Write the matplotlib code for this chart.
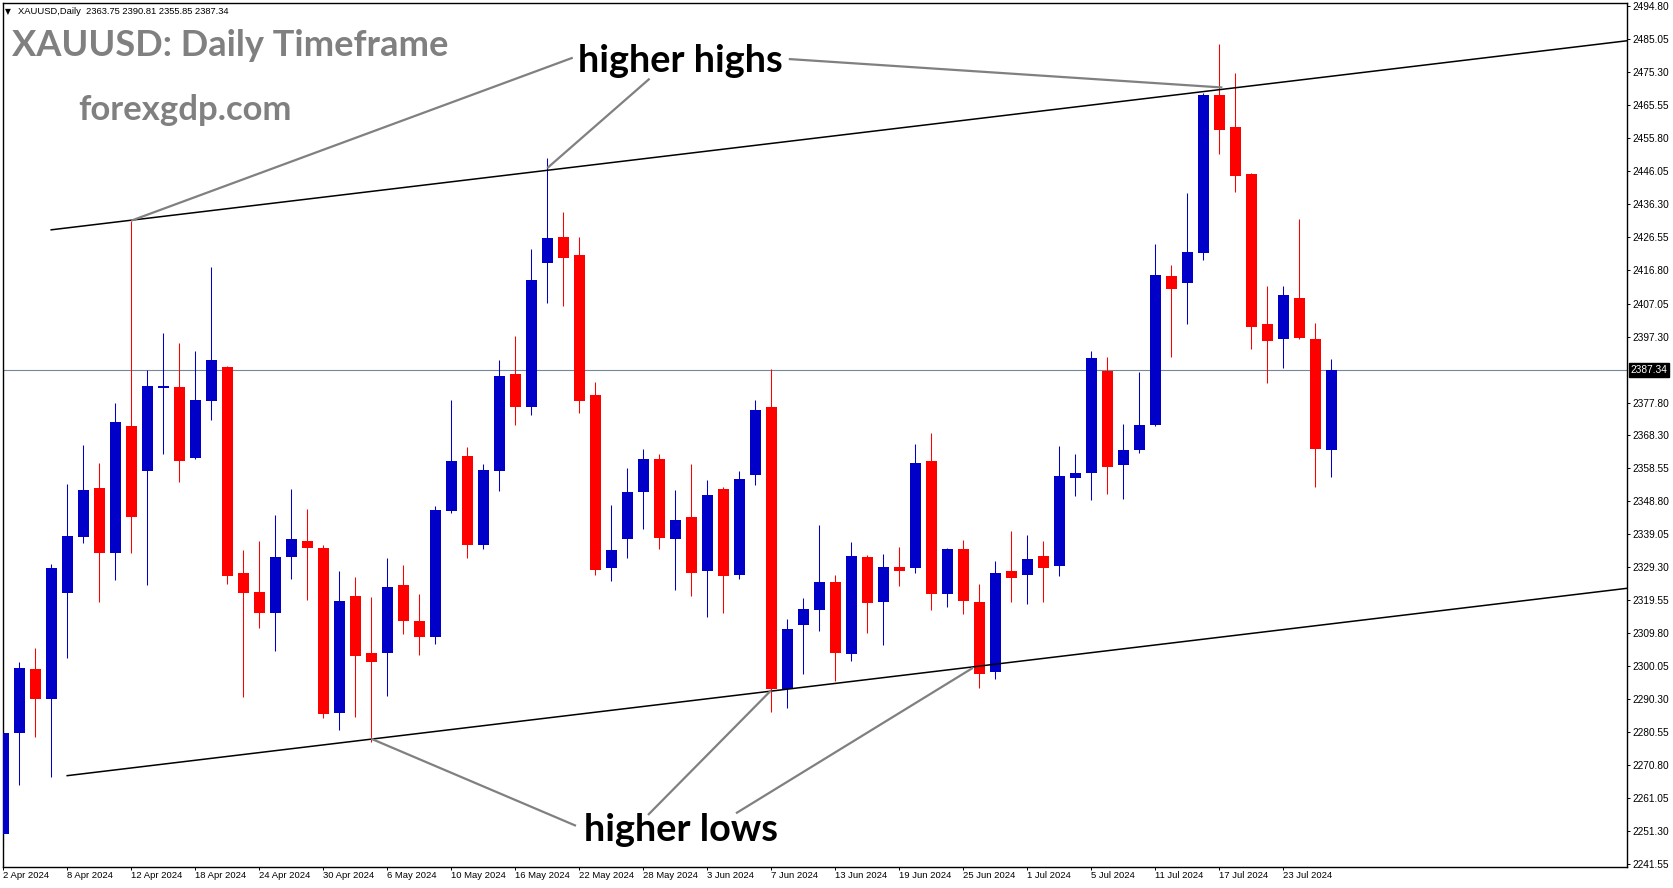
import matplotlib
matplotlib.use("Agg")
import matplotlib.pyplot as plt
import numpy as np
import pandas as pd

# ---------------- data ----------------
opens = [2250.4, 2280.3, 2299.1, 2290.4, 2321.7, 2338.0, 2352.7, 2333.3, 2371.0, 2357.5,
         2382.1, 2382.3, 2361.4, 2378.2, 2388.2, 2327.5, 2321.8, 2315.8, 2332.1, 2337.0,
         2334.9, 2286.1, 2320.7, 2303.9, 2304.0, 2323.9, 2313.4, 2308.7, 2345.9, 2362.1,
         2335.9, 2357.7, 2386.2, 2376.6, 2418.9, 2426.7, 2421.4, 2379.9, 2329.0, 2337.5,
         2351.3, 2361.2, 2337.4, 2344.1, 2328.2, 2352.4, 2326.9, 2356.3, 2376.5, 2293.2,
         2312.3, 2316.7, 2324.9, 2303.7, 2332.3, 2319.1, 2329.3, 2329.1, 2360.6, 2321.4,
         2334.6, 2318.9, 2298.4, 2328.1, 2326.9, 2332.6, 2329.6, 2355.6, 2357.0, 2387.2,
         2359.5, 2363.9, 2371.2, 2415.2, 2413.2, 2422.1, 2468.6, 2459.2, 2445.3, 2401.0,
         2396.7, 2408.7, 2396.6, 2363.75]
highs = [2281.0, 2301.1, 2305.3, 2330.2, 2353.8, 2365.2, 2360.1, 2377.6, 2431.5, 2387.4,
         2398.2, 2395.5, 2393.0, 2417.8, 2388.6, 2334.3, 2337.0, 2344.7, 2352.4, 2346.5,
         2335.9, 2328.1, 2326.3, 2320.4, 2332.0, 2329.9, 2321.3, 2347.2, 2378.6, 2364.7,
         2359.6, 2390.4, 2397.5, 2423.0, 2450.1, 2434.1, 2426.7, 2384.0, 2347.6, 2358.5,
         2364.2, 2362.5, 2352.0, 2359.7, 2355.0, 2352.9, 2357.6, 2378.6, 2387.8, 2313.9,
         2320.2, 2341.7, 2327.0, 2336.7, 2332.9, 2333.1, 2335.2, 2365.6, 2368.8, 2334.9,
         2337.3, 2324.3, 2331.0, 2339.9, 2338.7, 2337.0, 2365.0, 2362.6, 2393.0, 2391.3,
         2371.5, 2386.8, 2424.6, 2418.4, 2439.7, 2469.1, 2483.7, 2475.1, 2445.5, 2412.2,
         2412.2, 2432.0, 2401.3, 2390.81]
lows = [2246.5, 2264.9, 2279.2, 2267.3, 2302.5, 2336.4, 2319.0, 2325.3, 2333.5, 2324.0,
        2362.7, 2354.3, 2361.3, 2372.7, 2324.2, 2290.9, 2311.3, 2304.5, 2325.8, 2319.6,
        2284.7, 2281.2, 2285.0, 2277.5, 2291.2, 2309.5, 2303.4, 2306.6, 2345.1, 2332.0,
        2334.7, 2351.8, 2371.1, 2374.0, 2407.3, 2406.2, 2374.8, 2327.0, 2325.2, 2332.0,
        2340.4, 2334.5, 2322.6, 2320.6, 2314.6, 2315.6, 2325.7, 2353.4, 2286.6, 2287.7,
        2297.6, 2310.5, 2295.5, 2301.4, 2309.9, 2306.4, 2323.7, 2327.6, 2316.7, 2317.6,
        2315.5, 2293.7, 2296.3, 2318.9, 2318.4, 2318.9, 2326.6, 2350.2, 2349.0, 2350.9,
        2349.5, 2363.0, 2370.9, 2391.4, 2401.0, 2419.9, 2451.3, 2440.1, 2393.6, 2383.7,
        2388.1, 2396.7, 2353.0, 2355.85]
closes = [2280.3, 2299.4, 2290.4, 2329.0, 2338.4, 2352.0, 2333.3, 2372.2, 2343.9, 2382.8,
          2382.7, 2360.7, 2378.7, 2390.5, 2326.7, 2321.7, 2315.6, 2332.2, 2337.5, 2335.0,
          2285.9, 2319.3, 2303.1, 2301.3, 2323.4, 2313.4, 2308.6, 2346.2, 2360.6, 2335.9,
          2357.9, 2385.7, 2376.6, 2414.1, 2426.4, 2420.6, 2378.3, 2328.5, 2334.2, 2351.4,
          2361.2, 2337.9, 2343.2, 2327.4, 2350.5, 2326.7, 2355.3, 2375.6, 2293.2, 2311.0,
          2316.9, 2324.9, 2303.8, 2332.6, 2318.8, 2329.3, 2328.2, 2360.0, 2321.4, 2334.6,
          2319.3, 2297.8, 2327.5, 2326.1, 2331.6, 2329.1, 2356.1, 2357.0, 2391.0, 2358.9,
          2363.8, 2371.2, 2415.5, 2411.4, 2422.3, 2468.6, 2458.4, 2444.8, 2400.2, 2396.1,
          2409.6, 2397.0, 2364.2, 2387.34]
first_date = "2024-04-02"
ytick_labels = ["2494.80", "2485.05", "2475.30", "2465.55", "2455.80", "2446.05", "2436.30",
                "2426.55", "2416.80", "2407.05", "2397.30", "2377.80", "2368.30", "2358.55",
                "2348.80", "2339.05", "2329.30", "2319.55", "2309.80", "2300.05", "2290.30",
                "2280.55", "2270.80", "2261.05", "2251.30", "2241.55"]
last_price = 2387.34
header_text = "XAUUSD,Daily  2363.75 2390.81 2355.85 2387.34"
title_text = "XAUUSD: Daily Timeframe"
site_text = "forexgdp.com"
highs_label = "higher highs"
lows_label = "higher lows"
upper_channel_x = [3.0, 101.5]
upper_channel_y = [2428.8, 2484.6]
lower_channel_x = [4.0, 101.5]
lower_channel_y = [2267.7, 2323.0]
highs_pointers = [([35.6, 8.0], [2479.6, 2431.5]),
                  ([40.4, 34.0], [2473.4, 2447.0]),
                  ([49.1, 76.2], [2479.2, 2470.8])]
lows_pointers = [([35.8, 23.0], [2252.9, 2278.6]),
                 ([40.3, 48.0], [2256.1, 2292.9]),
                 ([45.8, 60.6], [2256.6, 2299.5])]

# ---------------- figure ----------------
W, H = 1673, 888
fig = plt.figure(figsize=(W / 100, H / 100), dpi=100)
fig.patch.set_facecolor("white")
ax = fig.add_axes([3 / W, (H - 866.5) / H, (1627 - 3) / W, (866.5 - 3) / H])
ax.set_facecolor("white")

BLUE = "#0000C8"
RED = "#FF0000"
o = np.array(opens); c = np.array(closes); hi = np.array(highs); lo = np.array(lows)
x = np.arange(len(o))
cols = np.where(c >= o, BLUE, RED)
ax.vlines(x, lo, hi, colors=cols, linewidth=0.75, zorder=2)
body_bottom = np.minimum(o, c)
body_h = np.maximum(np.abs(c - o), 0.35)
ax.bar(x, body_h, bottom=body_bottom, width=0.69, color=cols, linewidth=0, zorder=3)

ax.axhline(last_price, color="#778899", linewidth=0.8, zorder=1)

ax.plot(upper_channel_x, upper_channel_y, color="black", linewidth=1.1, zorder=4)
ax.plot(lower_channel_x, lower_channel_y, color="black", linewidth=1.1, zorder=4)
for px, py in highs_pointers + lows_pointers:
    ax.plot(px, py, color="#808080", linewidth=1.6, zorder=5, solid_capstyle="butt")

ax.set_xlim(-0.0125, 101.49)
ax.set_ylim(2240.89, 2495.74)

# y axis on right
ax.yaxis.tick_right()
ax.set_yticks([float(v) for v in ytick_labels])
ax.set_yticklabels(ytick_labels, fontfamily="Liberation Sans", fontsize=7.3)
ax.tick_params(axis="y", direction="out", length=2.2, width=0.7, pad=1.6, colors="black")

# x axis dates
dates = pd.bdate_range(first_date, periods=len(o))
xt = np.arange(0, len(o), 4)
ax.set_xticks(xt)
ax.set_xticklabels([f"{d.day} {d.strftime('%b %Y')}" for d in dates[xt]],
                   fontfamily="Liberation Sans", fontsize=6.8)
for lab in ax.get_xticklabels():
    lab.set_horizontalalignment("left")
ax.tick_params(axis="x", direction="out", length=2.2, width=0.7, pad=1.2)

for sp in ax.spines.values():
    sp.set_linewidth(1.0)
    sp.set_color("black")

ax.annotate(f"{last_price:.2f}", xy=(1, last_price), xycoords=("axes fraction", "data"),
            xytext=(2.6, 0), textcoords="offset points", ha="left", va="center",
            fontfamily="Liberation Sans", fontsize=7.3, color="white",
            bbox=dict(boxstyle="square,pad=0.18", fc="black", ec="black"),
            annotation_clip=False, zorder=10)

# ---------------- texts fitted to pixel boxes ----------------
renderer = fig.canvas.get_renderer()


def place(txt, x_left, baseline, width, **kw):
    t = fig.text(x_left / W, 1 - baseline / H, txt, ha="left", va="baseline", fontsize=20, **kw)
    w = t.get_window_extent(renderer).width
    t.set_fontsize(20 * width / w)
    return t


place(header_text, 18, 14.5, 212, family="Liberation Sans", color="black")
fig.text(5 / W, 1 - 14 / H, "\u25BC", fontsize=5.5, family="DejaVu Sans", color="black",
         ha="left", va="baseline")
place(title_text, 12, 56.0, 436, family="Lato", fontweight="bold", color="#808080")
place(site_text, 78, 119.5, 213, family="Lato", fontweight="bold", color="#808080")
place(highs_label, 578, 71.5, 205, family="Lato", fontweight="bold", color="black")
place(lows_label, 584, 840.5, 194, family="Lato", fontweight="bold", color="black")

fig.savefig("out.png", dpi=100)
